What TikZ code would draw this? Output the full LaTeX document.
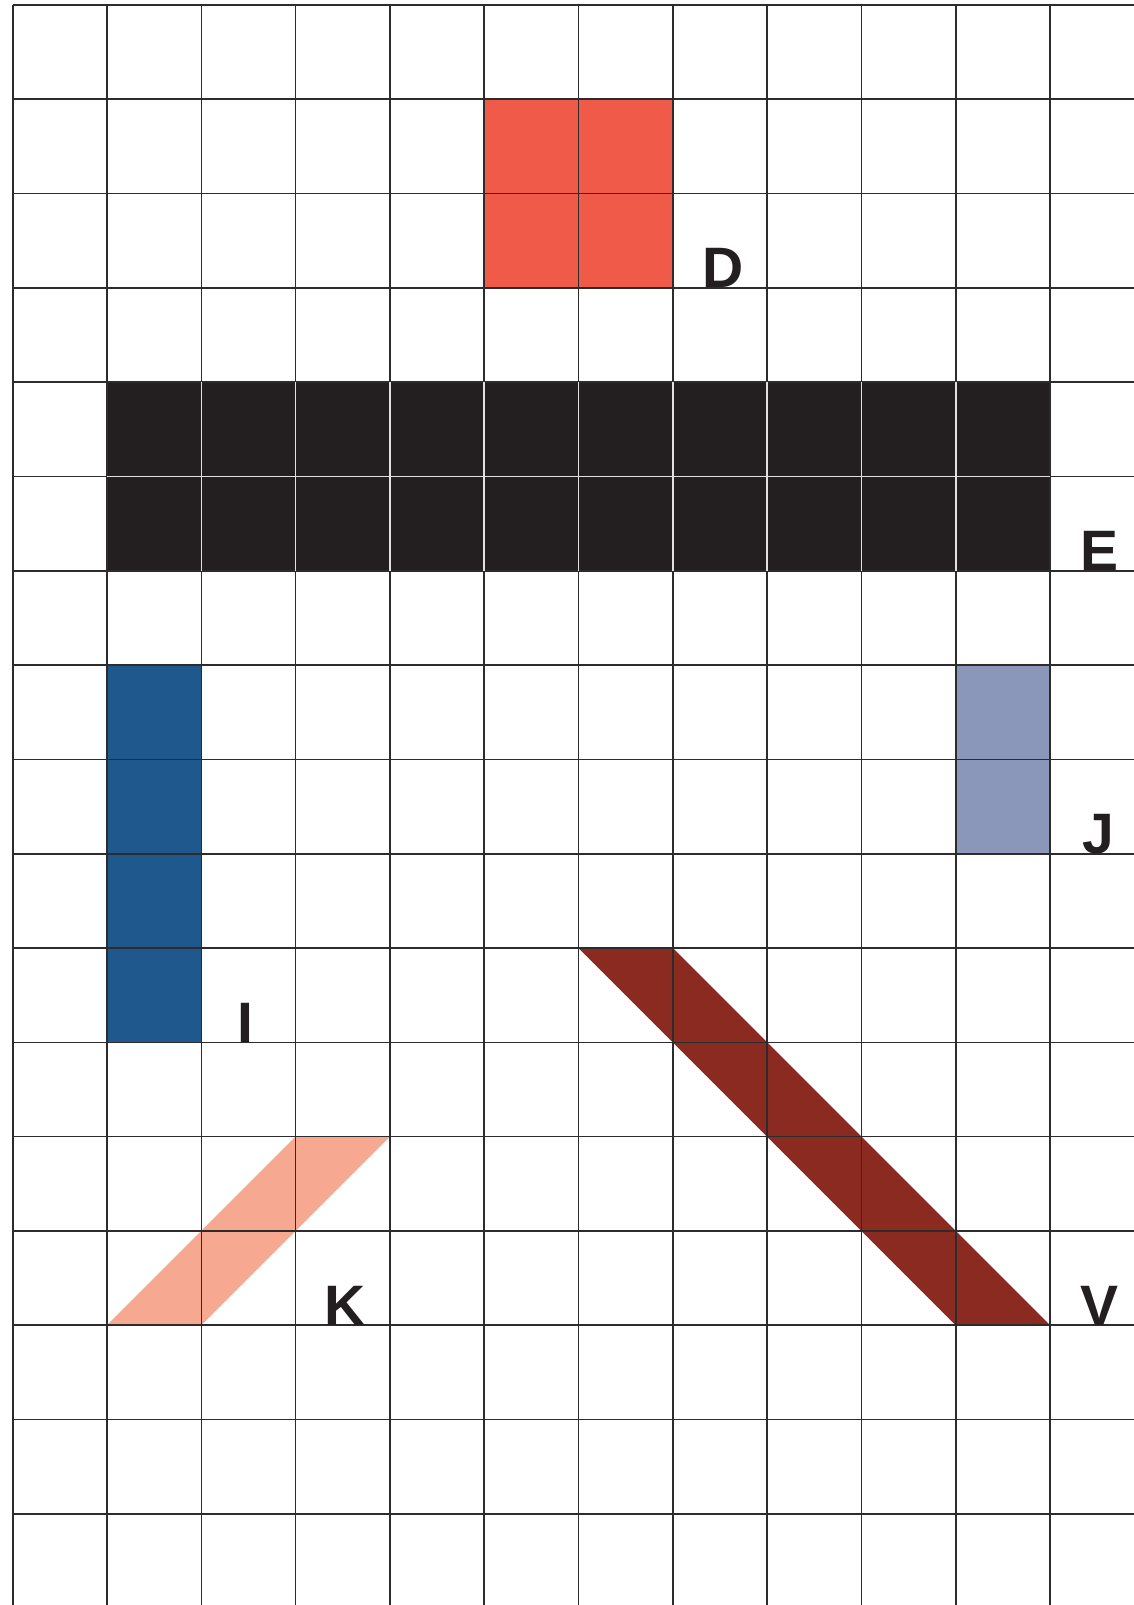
\documentclass[tikz,border=0pt]{standalone}
\usepackage{fontspec}
\setmainfont{Liberation Sans}
\definecolor{cD}{HTML}{F05A48}
\definecolor{cE}{HTML}{231F20}
\definecolor{cI}{HTML}{1F588C}
\definecolor{cJ}{HTML}{8A97BA}
\definecolor{cK}{HTML}{F7A891}
\definecolor{cV}{HTML}{8B2A21}
\definecolor{gridc}{HTML}{2E2B2C}
\tikzset{
  gridline/.style={draw=gridc, line width=1.6pt},
  innerline/.style={draw=white!88!black, line width=1.6pt},
  lbl/.style={font=\fontsize{57}{57}\selectfont\bfseries, text=cE, anchor=base, inner sep=0pt}
}
\begin{document}
\begin{tikzpicture}[x=1pt,y=-1pt]
\useasboundingbox (0,0) rectangle (1134,1605);
\fill[white] (0,0) rectangle (1134,1605);
\begin{scope}[shift={(12.7,5)}, x=94.3pt, y=-94.3pt]
  % shapes
  \fill[cD] (5,1) rectangle (7,3);
  \fill[cE] (1,4) rectangle (11,6);
  \fill[cI] (1,7) rectangle (2,11);
  \fill[cJ] (10,7) rectangle (11,9);
  \fill[cV] (6,10) -- (7,10) -- (11,14) -- (10,14) -- cycle;
  \fill[cK] (3,12) -- (4,12) -- (2,14) -- (1,14) -- cycle;
  % grid
  \foreach \c in {0,...,11} \draw[gridline] (\c,0) -- (\c,16.97);
  \foreach \r in {1,...,16} \draw[gridline] (0,\r) -- (11.9,\r);
  \draw[draw=gridc, line width=2.4pt] (0,0) -- (11.9,0);
  % white lines inside E
  \foreach \c in {2,...,10} \draw[innerline] (\c,4) -- (\c,6);
  \draw[innerline] (1,5) -- (11,5);
  % labels
  \coordinate (pD) at (7.53,3);
  \coordinate (pE) at (11.53,6);
  \coordinate (pJ) at (11.51,9);
  \coordinate (pI) at (2.47,11);
  \coordinate (pK) at (3.52,14);
  \coordinate (pV) at (11.53,14);
\end{scope}
\node[lbl] (D) at (pD) {D};
\node[lbl] (E) at (pE) {E};
\node[lbl] (J) at (pJ) {J};
\node[lbl] (I) at (pI) {I};
\node[lbl] (K) at (pK) {K};
\node[lbl] (V) at (pV) {V};
\end{tikzpicture}
\end{document}
